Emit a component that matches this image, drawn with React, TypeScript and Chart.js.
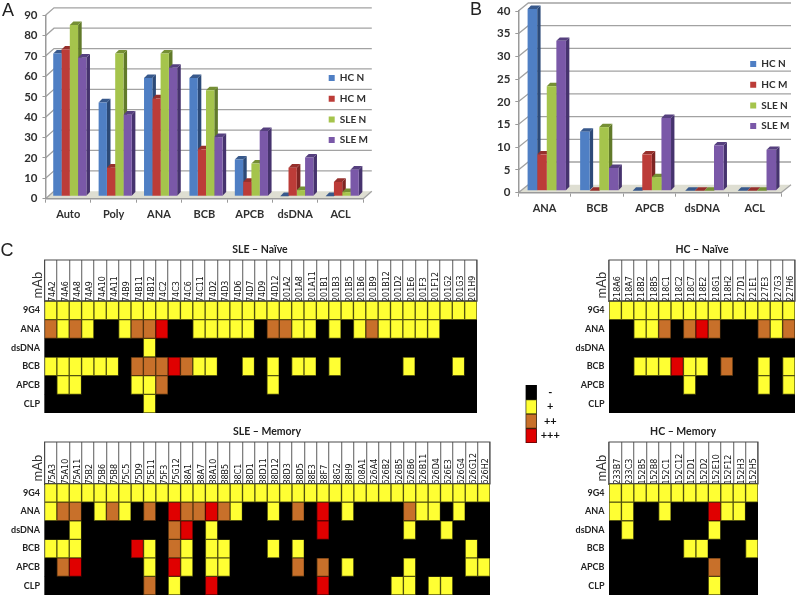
import React, { useEffect, useRef } from "react";
import Chart from "chart.js/auto";

const seriesNames = ["HC N", "HC M", "SLE N", "SLE M"];
const frontColors = ["#4F7FC4", "#BC3C38", "#A5C44C", "#7A58A8"];
const sideColors = ["#2C4A78", "#7E2523", "#617A2A", "#46336E"];
const topColors = ["#38598C", "#96302C", "#758F34", "#56407F"];

const panelACategories = ["Auto", "Poly", "ANA", "BCB", "APCB", "dsDNA", "ACL"];
const panelAHcN = [70, 46, 58, 58, 18, 0, 0];
const panelAHcM = [72, 14, 48, 23, 7, 14, 7];
const panelASleN = [84, 70, 70, 52, 16, 3, 2];
const panelASleM = [68, 40, 63, 29, 32, 19, 13];

const panelBCategories = ["ANA", "BCB", "APCB", "dsDNA", "ACL"];
const panelBHcN = [40, 13, 0, 0, 0];
const panelBHcM = [8, 0, 8, 0, 0];
const panelBSleN = [23, 14, 3, 0, 0];
const panelBSleM = [33, 5, 16, 10, 9];

const rowNames = ["9G4", "ANA", "dsDNA", "BCB", "APCB", "CLP"];
const levelNames = ["-", "+", "++", "+++"];
const levelColors = ["#000000", "#FFFF33", "#C8702A", "#E00000"];
const levelBorders = ["#000000", "#55550F", "#55330F", "#600000"];

const sleNaiveMabs = ["74A2", "74A6", "74A8", "74A9", "74A10", "74A11", "74B9", "74B11", "74B12", "74C2", "74C3", "74C6", "74C11", "74D2", "74D3", "74D6", "74D7", "74D9", "74D12", "201A2", "201A8", "201A11", "201B1", "201B3", "201B5", "201B6", "201B9", "201B12", "201D2", "201E6", "201F3", "201F12", "201G2", "201G3", "201H9"];
const sleNaiveLevels = [
  [1, 1, 1, 1, 1, 1, 1, 1, 1, 1, 1, 1, 1, 1, 1, 1, 1, 1, 1, 1, 1, 1, 1, 1, 1, 1, 1, 1, 1, 1, 1, 1, 1, 1, 1],
  [2, 1, 2, 1, 0, 0, 1, 2, 2, 3, 0, 0, 1, 1, 1, 1, 1, 0, 2, 2, 1, 1, 0, 1, 0, 1, 2, 1, 1, 1, 1, 1, 0, 0, 0],
  [0, 0, 0, 0, 0, 0, 0, 0, 1, 0, 0, 0, 0, 0, 0, 0, 0, 0, 0, 0, 0, 0, 0, 0, 0, 0, 0, 0, 0, 0, 0, 0, 0, 0, 0],
  [1, 1, 1, 1, 1, 1, 0, 2, 2, 2, 3, 2, 1, 1, 0, 0, 1, 0, 1, 0, 1, 1, 0, 1, 0, 0, 0, 0, 0, 1, 0, 0, 0, 1, 0],
  [0, 1, 1, 0, 0, 0, 0, 1, 1, 2, 0, 0, 0, 0, 0, 0, 0, 0, 1, 0, 0, 0, 0, 0, 0, 0, 0, 0, 0, 0, 0, 0, 0, 0, 0],
  [0, 0, 0, 0, 0, 0, 0, 0, 1, 0, 0, 0, 0, 0, 0, 0, 0, 0, 0, 0, 0, 0, 0, 0, 0, 0, 0, 0, 0, 0, 0, 0, 0, 0, 0],
];

const sleMemoryMabs = ["75A3", "75A10", "75A11", "75B2", "75B6", "75B8", "75C5", "75D9", "75E11", "75F3", "75G12", "88A1", "88A7", "88A10", "88B5", "88C1", "88D1", "88D11", "88D12", "88D3", "88D5", "88E3", "88F7", "88G2", "88H9", "208A1", "626A4", "626B2", "626B5", "626B6", "626B11", "626D4", "626E3", "626G4", "626G12", "626H2"];
const sleMemoryLevels = [
  [1, 1, 1, 1, 1, 1, 1, 1, 1, 1, 1, 1, 1, 1, 1, 1, 1, 1, 1, 1, 1, 1, 1, 1, 1, 1, 1, 1, 1, 1, 1, 1, 1, 1, 1, 1],
  [1, 2, 2, 0, 1, 2, 1, 0, 2, 0, 3, 2, 2, 3, 2, 1, 0, 0, 1, 0, 2, 0, 3, 0, 1, 0, 0, 0, 0, 2, 1, 1, 0, 1, 0, 0],
  [0, 0, 1, 0, 0, 0, 0, 0, 0, 0, 2, 3, 0, 1, 0, 0, 0, 0, 0, 0, 0, 0, 3, 0, 0, 0, 0, 0, 0, 1, 0, 0, 1, 0, 0, 0],
  [1, 1, 1, 0, 0, 0, 0, 3, 1, 0, 2, 1, 0, 1, 1, 0, 0, 0, 1, 0, 1, 0, 0, 0, 0, 0, 0, 0, 0, 0, 0, 0, 0, 0, 1, 0],
  [0, 2, 3, 0, 0, 0, 0, 0, 1, 0, 3, 1, 0, 1, 1, 0, 0, 0, 0, 0, 2, 0, 2, 0, 1, 0, 0, 0, 0, 1, 0, 0, 0, 0, 1, 1],
  [0, 0, 0, 0, 0, 0, 0, 0, 2, 0, 1, 0, 0, 3, 0, 0, 0, 0, 0, 0, 0, 0, 3, 0, 0, 0, 0, 0, 1, 1, 0, 1, 1, 0, 0, 0],
];

const hcNaiveMabs = ["218A6", "218A7", "218B2", "218B5", "218C1", "218C2", "218C7", "218E2", "218G1", "218H2", "227D1", "221E1", "227E3", "227G3", "227H6"];
const hcNaiveLevels = [
  [1, 1, 1, 1, 1, 1, 1, 1, 1, 1, 1, 1, 1, 1, 1],
  [0, 0, 1, 1, 2, 0, 2, 3, 2, 0, 0, 0, 2, 1, 2],
  [0, 0, 0, 0, 0, 0, 0, 0, 0, 0, 0, 0, 0, 0, 0],
  [0, 0, 1, 1, 1, 3, 1, 1, 0, 2, 0, 0, 1, 0, 1],
  [0, 0, 0, 0, 0, 0, 1, 0, 0, 0, 0, 0, 1, 0, 1],
  [0, 0, 0, 0, 0, 0, 0, 0, 0, 0, 0, 0, 0, 0, 0],
];

const hcMemoryMabs = ["233B7", "233C3", "152B5", "152B8", "152C1", "152C12", "152D1", "152D2", "152E10", "152F12", "152H3", "152H5"];
const hcMemoryLevels = [
  [1, 1, 1, 1, 1, 1, 1, 1, 1, 1, 1, 1],
  [1, 1, 0, 0, 1, 0, 0, 0, 3, 1, 1, 0],
  [0, 1, 0, 0, 0, 0, 0, 0, 1, 0, 0, 0],
  [0, 0, 0, 0, 0, 0, 1, 1, 0, 0, 0, 1],
  [0, 0, 0, 0, 0, 0, 0, 0, 2, 0, 0, 0],
  [0, 0, 0, 0, 0, 0, 0, 0, 1, 0, 0, 0],
];

const legendLevels = [[0], [1], [2], [3]];

const textColor = "#2f2f2f";
const sansBold = (size: number) => ({ family: "Lato", size, weight: "bold" as const });

const fixX = (h: number) => (s: any) => {
  s.height = h;
  s.paddingLeft = 0;
  s.paddingRight = 0;
};
const fixY = (w: number) => (s: any) => {
  s.width = w;
  s.paddingTop = 0;
  s.paddingBottom = 0;
};

function makeBarConfig(p: any) {
  const depthPlugin = {
    id: "depth3d",
    beforeDraw(chart: any) {
      const { ctx, chartArea: a, scales } = chart;
      const y = scales.y;
      ctx.save();
      const y0 = y.getPixelForValue(0);
      ctx.fillStyle = "#DEDED2";
      ctx.beginPath();
      ctx.moveTo(a.left, y0);
      ctx.lineTo(a.right, y0);
      ctx.lineTo(a.right + p.backX, y0 - p.backY);
      ctx.lineTo(a.left + p.backX, y0 - p.backY);
      ctx.closePath();
      ctx.fill();
      ctx.strokeStyle = "#A2A2A2";
      ctx.lineWidth = 1.3;
      y.ticks.forEach((t: any) => {
        const py = y.getPixelForValue(t.value);
        ctx.beginPath();
        ctx.moveTo(a.left, py);
        ctx.lineTo(a.left + p.backX, py - p.backY);
        if (t.value !== 0) ctx.lineTo(a.right + p.backX, py - p.backY);
        ctx.stroke();
      });
      ctx.beginPath();
      ctx.moveTo(a.right, y0);
      ctx.lineTo(a.right + p.backX, y0 - p.backY);
      ctx.stroke();
      ctx.restore();
    },
    beforeDatasetsDraw(chart: any) {
      const { ctx } = chart;
      ctx.save();
      ctx.translate(p.shiftX, -p.shiftY);
      chart.data.datasets.forEach((_: any, di: number) => {
        chart.getDatasetMeta(di).data.forEach((bar: any) => {
          const l = bar.x - bar.width / 2;
          const r = bar.x + bar.width / 2;
          ctx.fillStyle = sideColors[di];
          ctx.beginPath();
          ctx.moveTo(r, bar.y);
          ctx.lineTo(r + p.depth, bar.y - p.depth);
          ctx.lineTo(r + p.depth, bar.base - p.depth);
          ctx.lineTo(r, bar.base);
          ctx.closePath();
          ctx.fill();
          ctx.fillStyle = topColors[di];
          ctx.beginPath();
          ctx.moveTo(l, bar.y);
          ctx.lineTo(r, bar.y);
          ctx.lineTo(r + p.depth, bar.y - p.depth);
          ctx.lineTo(l + p.depth, bar.y - p.depth);
          ctx.closePath();
          ctx.fill();
        });
      });
    },
    afterDatasetsDraw(chart: any) {
      chart.ctx.restore();
    },
    afterLayout(chart: any) {
      const lg = chart.legend;
      const w = lg.width;
      const h = lg.height;
      lg.left = p.legendX;
      lg.top = p.legendY;
      lg.right = p.legendX + w;
      lg.bottom = p.legendY + h;
    },
  };
  return {
    type: "bar",
    plugins: [depthPlugin],
    data: {
      labels: p.categories,
      datasets: p.series.map((values: number[], i: number) => ({
        label: seriesNames[i],
        data: values,
        backgroundColor: frontColors[i],
        clip: false,
      })),
    },
    options: {
      animation: false,
      responsive: false,
      layout: { autoPadding: false, padding: { left: 0, top: p.top, right: p.right, bottom: 0 } },
      categoryPercentage: 0.73,
      barPercentage: 1,
      plugins: {
        tooltip: { enabled: false },
        title: { display: false },
        legend: {
          position: "chartArea",
          align: "start",
          labels: {
            boxWidth: 6,
            boxHeight: 6,
            padding: 10.7,
            color: textColor,
            font: sansBold(10),
          },
        },
      },
      scales: {
        x: {
          afterFit: fixX(p.bottom),
          grid: { drawOnChartArea: false, tickLength: 4, color: "#9A9A9A", offset: true },
          border: { color: "#9A9A9A", width: 1.5 },
          ticks: { color: textColor, font: sansBold(11), padding: 5, maxRotation: 0 },
        },
        y: {
          min: 0,
          max: p.max,
          afterFit: fixY(p.left),
          grid: { drawOnChartArea: false, tickLength: 3, color: "#9A9A9A" },
          border: { color: "#9A9A9A", width: 1.5 },
          ticks: { stepSize: p.step, color: textColor, font: sansBold(11.5), padding: 5 },
        },
      },
    },
  };
}

function makeGridConfig(p: any) {
  const headerPlugin = {
    id: "headerBox",
    beforeDatasetsDraw(chart: any) {
      const { ctx, chartArea: a } = chart;
      ctx.save();
      ctx.fillStyle = levelColors[0];
      ctx.fillRect(a.left, a.top, a.right - a.left, a.bottom - a.top);
      ctx.restore();
    },
    afterDraw(chart: any) {
      const { ctx, chartArea: a } = chart;
      if (!p.headerHeight) return;
      ctx.save();
      ctx.strokeStyle = "#4A4A4A";
      ctx.lineWidth = 1;
      ctx.strokeRect(a.left, a.top - p.headerHeight, a.right - a.left, p.headerHeight);
      ctx.restore();
    },
  };
  const xTicksOn = p.headerHeight > 0;
  return {
    type: "bar",
    plugins: [headerPlugin],
    data: {
      labels: p.columns,
      datasets: p.rows.map((row: string, r: number) => ({
        label: row,
        data: p.levels[r].map(() => 1),
        backgroundColor: p.levels[r].map((v: number) => levelColors[v]),
        borderColor: p.levels[r].map((v: number) => levelBorders[v]),
        borderWidth: 1,
        borderSkipped: false,
        stack: "cells",
      })),
    },
    options: {
      animation: false,
      responsive: false,
      layout: { autoPadding: false, padding: { left: p.left || 0, top: p.top, right: p.right, bottom: p.bottom } },
      categoryPercentage: 1,
      barPercentage: 1,
      plugins: { legend: { display: false }, tooltip: { enabled: false } },
      scales: {
        x: {
          position: "top",
          stacked: true,
          display: xTicksOn,
          afterFit: fixX(p.headerHeight),
          grid: { drawOnChartArea: false, tickLength: p.headerHeight, color: "#808080", lineWidth: 1.3, offset: true },
          border: { color: "#6E6E6E", width: 2 },
          ticks: {
            autoSkip: false,
            minRotation: 90,
            maxRotation: 90,
            padding: -(p.headerHeight + 1),
            labelOffset: 12,
            color: "#111111",
            font: { family: "DejaVu Sans", size: 8 },
          },
        },
        y: {
          stacked: true,
          reverse: true,
          min: 0,
          max: p.rows.length,
          position: p.labelSide,
          afterFit: fixY(p.labelWidth),
          afterBuildTicks: (s: any) => {
            s.ticks = p.rows.map((_: string, i: number) => ({ value: i + 0.5 }));
          },
          grid: { display: false, drawTicks: false },
          border: { display: false },
          ticks: {
            autoSkip: false,
            crossAlign: p.labelSide === "right" ? "center" : "near",
            padding: p.labelPadding,
            color: p.labelColor,
            font: sansBold(p.labelSize),
            callback: (v: number) => p.rows[Math.floor(v)],
          },
        },
      },
    },
  };
}

function ChartBox({ x, y, w, h, config }: any) {
  const ref = useRef<HTMLCanvasElement>(null);
  useEffect(() => {
    const chart = new Chart(ref.current as any, config() as any);
    return () => chart.destroy();
  }, []);
  return (
    <canvas
      ref={ref}
      width={w}
      height={h}
      style={{ position: "absolute", left: x, top: y, width: w, height: h, display: "block" }}
    />
  );
}

function Txt({ x, y, text, font, size, weight, color, rotate }: any) {
  return (
    <div
      style={{
        position: "absolute",
        left: x,
        top: y,
        transform: `translate(-50%,-50%)${rotate ? " rotate(-90deg)" : ""}`,
        fontFamily: font,
        fontSize: size,
        fontWeight: weight || "normal",
        color: color || "#222",
        whiteSpace: "nowrap",
        lineHeight: 1,
      }}
    >
      {text}
    </div>
  );
}

function heat(box: any, columns: string[], levels: number[][]) {
  const top = 4;
  const bottom = 3;
  const header = box.areaTop - box.headerTop;
  const canvasTop = box.headerTop - top;
  const canvasH = top + header + (box.areaBottom - box.areaTop) + bottom;
  const canvasW = box.right + 2;
  return (
    <ChartBox
      x={0}
      y={canvasTop}
      w={canvasW}
      h={canvasH}
      config={() =>
        makeGridConfig({
          columns,
          levels,
          rows: rowNames,
          headerHeight: header,
          top,
          bottom,
          right: 2,
          labelWidth: box.left,
          labelSide: "left",
          labelPadding: 4.5,
          labelColor: "#222222",
          labelSize: 9,
        })
      }
    />
  );
}

export default function App() {
  return (
    <div style={{ position: "absolute", left: 0, top: 0, width: 797, height: 597, overflow: "hidden", background: "#fff" }}>
      <ChartBox
        x={0}
        y={0}
        w={420}
        h={225}
        config={() =>
          makeBarConfig({
            categories: panelACategories,
            series: [panelAHcN, panelAHcM, panelASleN, panelASleM],
            max: 90,
            step: 10,
            left: 45.5,
            right: 56.7,
            top: 15.3,
            bottom: 26.3,
            backX: 8.5,
            backY: 7.5,
            shiftX: 1.6,
            shiftY: 2.5,
            depth: 3.6,
            legendX: 318,
            legendY: 62.3,
          })
        }
      />
      <ChartBox
        x={430}
        y={0}
        w={367}
        h={225}
        config={() =>
          makeBarConfig({
            categories: panelBCategories,
            series: [panelBHcN, panelBHcM, panelBSleN, panelBSleM],
            max: 40,
            step: 5,
            left: 88.3,
            right: 16,
            top: 11,
            bottom: 32.3,
            backX: 10,
            backY: 8,
            shiftX: 2.2,
            shiftY: 2,
            depth: 3.4,
            legendX: 309.5,
            legendY: 48.3,
          })
        }
      />
      {heat({ left: 44.5, right: 477.3, headerTop: 260.3, areaTop: 301.3, areaBottom: 413.3 }, sleNaiveMabs, sleNaiveLevels)}
      {heat({ left: 44.5, right: 490.3, headerTop: 441.7, areaTop: 483.3, areaBottom: 595.3 }, sleMemoryMabs, sleMemoryLevels)}
      {heat({ left: 609, right: 795, headerTop: 260.3, areaTop: 301.3, areaBottom: 413.3 }, hcNaiveMabs, hcNaiveLevels)}
      {heat({ left: 609, right: 758.3, headerTop: 441.7, areaTop: 483.3, areaBottom: 595.3 }, hcMemoryMabs, hcMemoryLevels)}
      <ChartBox
        x={500}
        y={382}
        w={70}
        h={64}
        config={() =>
          makeGridConfig({
            columns: ["level"],
            levels: legendLevels,
            rows: levelNames,
            headerHeight: 0,
            left: 25.7,
            top: 3,
            bottom: 3,
            right: 0,
            labelWidth: 33.3,
            labelSide: "right",
            labelPadding: 4,
            labelColor: "#111",
            labelSize: 11,
          })
        }
      />
      <Txt x={8} y={10} text="A" font="'Liberation Sans'" size={18} />
      <Txt x={476} y={9} text="B" font="'Liberation Sans'" size={18} />
      <Txt x={7} y={250} text="C" font="'Liberation Sans'" size={18} />
      <Txt x={260} y={249} text="SLE – Naïve" font="Lato" size={10.5} weight="bold" />
      <Txt x={267} y={431} text="SLE – Memory" font="Lato" size={10.5} weight="bold" />
      <Txt x={702} y={249} text="HC – Naïve" font="Lato" size={10.5} weight="bold" />
      <Txt x={683} y={431} text="HC – Memory" font="Lato" size={10.5} weight="bold" />
      <Txt x={36.5} y={285} text="mAb" font="Lato" size={13} color="#333" rotate />
      <Txt x={36.5} y={468} text="mAb" font="Lato" size={13} color="#333" rotate />
      <Txt x={601} y={285} text="mAb" font="Lato" size={13} color="#333" rotate />
      <Txt x={601} y={468} text="mAb" font="Lato" size={13} color="#333" rotate />
    </div>
  );
}
